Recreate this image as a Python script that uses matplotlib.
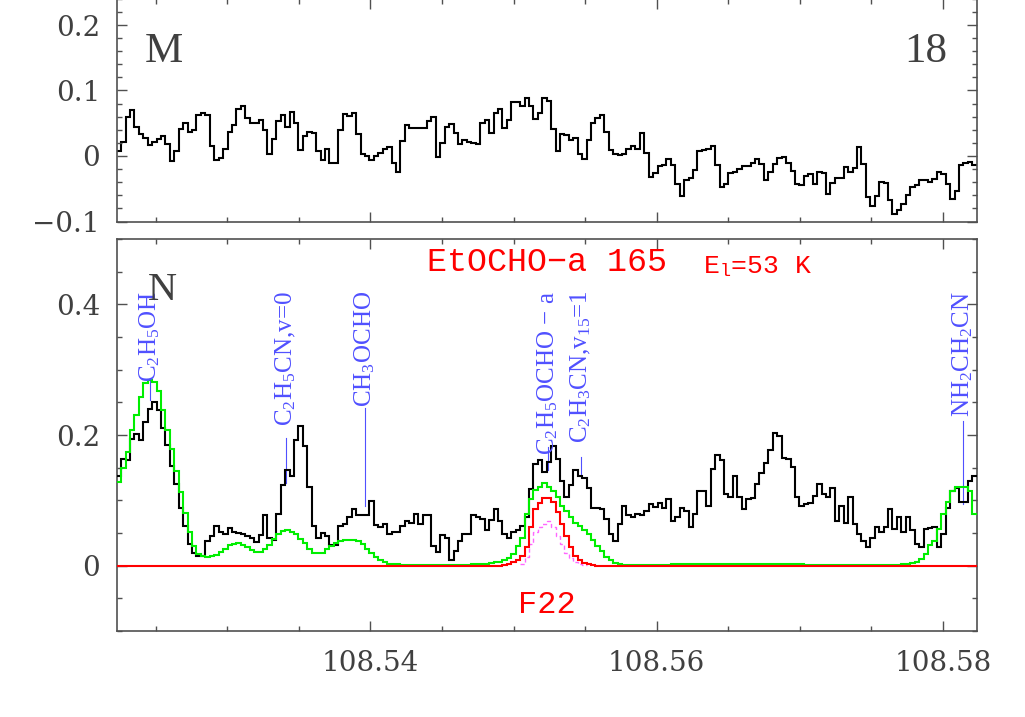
#============================IMPORTS================================
import matplotlib
matplotlib.use("Agg")
import matplotlib.pyplot as plt
from matplotlib.ticker import MultipleLocator, FuncFormatter
import numpy as np

#============================DATA===================================
# channel grid (GHz): centre of first channel and channel width
f_first = 108.52243
f_step = 0.0003097

# panel M (upper), one value per channel
m_flux = [
  0.008, 0.021, 0.059, 0.070, 0.044, 0.034, 0.028, 0.017, 0.021, 0.026,
  0.030, 0.018, -0.008, 0.008, 0.041, 0.050, 0.036, 0.040, 0.062, 0.066,
  0.062, 0.016, -0.006, -0.003, 0.010, 0.036, 0.048, 0.072, 0.076, 0.058,
  0.050, 0.051, 0.055, 0.039, 0.003, 0.026, 0.053, 0.063, 0.045, 0.067,
  0.051, 0.009, 0.030, 0.037, 0.035, 0.007, -0.006, 0.010, -0.010, -0.011,
  0.040, 0.064, 0.061, 0.065, 0.034, 0.003, 0.000, -0.006, 0.000, 0.005,
  0.010, 0.014, -0.010, -0.025, 0.023, 0.047, 0.042, 0.042, 0.042, 0.042,
  0.054, 0.060, -0.002, 0.020, 0.044, 0.049, 0.035, 0.018, 0.024, 0.022,
  0.020, 0.019, 0.051, 0.055, 0.035, 0.066, 0.071, 0.042, 0.055, 0.083,
  0.083, 0.076, 0.089, 0.076, 0.056, 0.066, 0.089, 0.084, 0.041, 0.008,
  0.033, 0.032, 0.024, 0.027, 0.003, -0.005, 0.025, 0.050, 0.058, 0.062,
  0.036, 0.009, 0.003, 0.002, 0.003, 0.011, 0.016, 0.011, 0.035, 0.004,
  -0.032, -0.026, -0.016, -0.013, -0.004, -0.013, -0.042, -0.061, -0.037, -0.034,
  -0.021, 0.007, 0.009, 0.010, 0.016, -0.013, -0.047, -0.043, -0.026, -0.025,
  -0.020, -0.015, -0.015, -0.011, -0.005, -0.012, -0.037, -0.025, -0.012, -0.003,
  -0.002, -0.010, -0.023, -0.042, -0.045, -0.031, -0.027, -0.042, -0.025, -0.026,
  -0.058, -0.041, -0.033, -0.033, -0.017, -0.024, -0.019, 0.013, -0.012, -0.062,
  -0.076, -0.061, -0.040, -0.041, -0.067, -0.088, -0.082, -0.073, -0.060, -0.048,
  -0.044, -0.037, -0.037, -0.039, -0.035, -0.025, -0.028, -0.042, -0.065, -0.053,
  -0.013, -0.010, -0.009, -0.013]

# panel N (lower), observed spectrum
n_flux = [
  0.138, 0.163, 0.161, 0.194, 0.202, 0.192, 0.220, 0.240, 0.250, 0.239,
  0.210, 0.184, 0.153, 0.125, 0.089, 0.061, 0.033, 0.020, 0.015, 0.015,
  0.037, 0.046, 0.061, 0.051, 0.049, 0.057, 0.051, 0.050, 0.048, 0.046,
  0.043, 0.036, 0.047, 0.077, 0.043, 0.039, 0.079, 0.124, 0.147, 0.138,
  0.192, 0.214, 0.183, 0.121, 0.060, 0.042, 0.050, 0.045, 0.031, 0.032,
  0.060, 0.064, 0.075, 0.087, 0.077, 0.078, 0.078, 0.099, 0.063, 0.059,
  0.064, 0.048, 0.051, 0.051, 0.061, 0.069, 0.066, 0.079, 0.064, 0.078,
  0.078, 0.030, 0.021, 0.047, 0.043, 0.008, 0.022, 0.037, 0.048, 0.048,
  0.078, 0.074, 0.072, 0.054, 0.070, 0.087, 0.069, 0.048, 0.043, 0.051,
  0.054, 0.060, 0.075, 0.118, 0.156, 0.161, 0.143, 0.158, 0.183, 0.163,
  0.130, 0.105, 0.123, 0.146, 0.138, 0.134, 0.119, 0.089, 0.088, 0.087,
  0.072, 0.048, 0.037, 0.064, 0.092, 0.077, 0.075, 0.079, 0.077, 0.083,
  0.094, 0.090, 0.096, 0.089, 0.102, 0.069, 0.074, 0.088, 0.084, 0.059,
  0.079, 0.115, 0.115, 0.092, 0.148, 0.169, 0.161, 0.110, 0.105, 0.138,
  0.105, 0.087, 0.102, 0.104, 0.125, 0.142, 0.157, 0.177, 0.203, 0.199,
  0.165, 0.163, 0.151, 0.105, 0.092, 0.095, 0.096, 0.107, 0.125, 0.110,
  0.105, 0.119, 0.069, 0.092, 0.066, 0.105, 0.064, 0.049, 0.038, 0.029,
  0.043, 0.059, 0.051, 0.059, 0.087, 0.056, 0.074, 0.051, 0.074, 0.054,
  0.033, 0.028, 0.056, 0.058, 0.059, 0.028, 0.049, 0.089, 0.115, 0.119,
  0.097, 0.097, 0.130, 0.138]

# full model, all species (green)
model_all = [
  0.128, 0.150, 0.174, 0.207, 0.230, 0.258, 0.279, 0.284, 0.281, 0.268,
  0.238, 0.208, 0.178, 0.145, 0.112, 0.080, 0.051, 0.030, 0.018, 0.015,
  0.014, 0.015, 0.017, 0.021, 0.026, 0.031, 0.033, 0.034, 0.032, 0.028,
  0.024, 0.021, 0.021, 0.025, 0.031, 0.041, 0.049, 0.053, 0.054, 0.052,
  0.049, 0.041, 0.034, 0.026, 0.020, 0.019, 0.020, 0.025, 0.030, 0.034,
  0.038, 0.040, 0.040, 0.039, 0.037, 0.033, 0.026, 0.019, 0.013, 0.008,
  0.005, 0.003, 0.002, 0.002, 0.001, 0.001, 0.001, 0.001, 0.001, 0.001,
  0.001, 0.001, 0.001, 0.001, 0.001, 0.001, 0.001, 0.001, 0.001, 0.001,
  0.002, 0.002, 0.002, 0.003, 0.004, 0.005, 0.005, 0.008, 0.012, 0.018,
  0.030, 0.043, 0.079, 0.102, 0.116, 0.121, 0.126, 0.121, 0.115, 0.105,
  0.092, 0.084, 0.074, 0.066, 0.061, 0.055, 0.049, 0.039, 0.030, 0.022,
  0.014, 0.008, 0.004, 0.002, 0.001, 0.001, 0.001, 0.001, 0.001, 0.001,
  0.001, 0.001, 0.001, 0.001, 0.001, 0.002, 0.002, 0.002, 0.002, 0.002,
  0.002, 0.002, 0.002, 0.002, 0.002, 0.002, 0.002, 0.002, 0.002, 0.002,
  0.002, 0.002, 0.002, 0.002, 0.002, 0.002, 0.002, 0.002, 0.002, 0.002,
  0.002, 0.002, 0.002, 0.002, 0.002, 0.001, 0.001, 0.001, 0.001, 0.001,
  0.001, 0.001, 0.001, 0.001, 0.001, 0.001, 0.001, 0.001, 0.001, 0.001,
  0.001, 0.001, 0.001, 0.001, 0.001, 0.001, 0.001, 0.002, 0.003, 0.004,
  0.006, 0.010, 0.018, 0.031, 0.038, 0.056, 0.079, 0.097, 0.115, 0.121,
  0.121, 0.121, 0.115, 0.079]

# EtOCHO-a model (red), zero outside the given channels
etocho_start = 86
etocho_flux = [0.000, 0.001, 0.002, 0.005, 0.009, 0.015, 0.028, 0.059, 0.087, 0.096,
               0.104, 0.104, 0.097, 0.082, 0.064, 0.046, 0.028, 0.015, 0.008, 0.004,
               0.002, 0.001]
# second EtOCHO model (pink dashed)
etocho2_start = 91
etocho2_flux = [0.003, 0.013, 0.033, 0.051, 0.059, 0.064, 0.068, 0.059, 0.046, 0.033,
                0.020, 0.011, 0.005, 0.003, 0.001]

# line identifications
id_labels = [r"C$_2$H$_5$OH", r"C$_2$H$_5$CN,v=0", r"CH$_3$OCHO",
             "C$_2$H$_5$OCHO \u2212 a", r"C$_2$H$_3$CN,v$_{15}$=1", r"NH$_2$CH$_2$CN"]
id_freqs = [108.52458, 108.53410, 108.53960, 108.55239, 108.55471, 108.58137]

#============================STYLE==================================
W, H = 1025, 717
ID_BLUE = "#5050ff"
AX_GREY = "#505050"
LBL_GREY = "#404040"
# label foot and data end of the identification ticks (y, panel N units)
id_top = [0.288, 0.195, 0.242, 0.181, 0.166, 0.222]
id_bot = [0.253, 0.126, 0.092, 0.146, 0.135, 0.095]

plt.rcParams["mathtext.fontset"] = "custom"
plt.rcParams["mathtext.rm"] = "Liberation Serif"
plt.rcParams["mathtext.it"] = "Liberation Serif:italic"

#============================FUNCTIONS==============================
def edges(n, start=0):
  # channel edges in GHz
  return f_first + f_step*(np.arange(n+1) + start - 0.5)

def fmt_y(v, pos):
  return ("%g" % round(v, 3)).replace("-", "\u2212")

def fig_xy(x, y):
  # pixel position -> figure fraction
  return x/W, 1 - y/H

def style_axes(ax, ymaj, ymin, xlabels):
  ax.set_xlim(edges(len(n_flux))[0], edges(len(n_flux))[-1])
  ax.xaxis.set_major_locator(MultipleLocator(0.02))
  ax.xaxis.set_minor_locator(MultipleLocator(0.005))
  ax.yaxis.set_major_locator(MultipleLocator(ymaj))
  ax.yaxis.set_minor_locator(MultipleLocator(ymin))
  ax.yaxis.set_major_formatter(FuncFormatter(fmt_y))
  ax.xaxis.set_major_formatter(FuncFormatter(lambda v, p: "%.2f" % v))
  ax.tick_params(which="both", direction="in", top=True, right=True,
                 color=AX_GREY, width=1, labelsize=20, labelcolor=LBL_GREY, pad=12)
  ax.tick_params(which="major", length=7)
  ax.tick_params(which="minor", length=3.6)
  ax.tick_params(axis="x", labelbottom=xlabels, pad=14)
  for lab in ax.get_xticklabels() + ax.get_yticklabels():
    lab.set_family("DejaVu Serif")
  for sp in ax.spines.values():
    sp.set_color(AX_GREY)
    sp.set_linewidth(1.2)

#==============================MAIN=================================
def main():
  fig = plt.figure(figsize=(W/100, H/100), dpi=100)
  left, width = 116.7/W, 860/W
  ax_m = fig.add_axes([left, 1 - 221.5/H, width, 222.7/H])
  ax_n = fig.add_axes([left, 1 - 631/H, width, 392/H])

  # panel M
  ax_m.stairs(m_flux, edges(len(m_flux)), baseline=None, color="black", lw=1.5)
  ax_m.set_ylim(-0.1, 0.24)
  style_axes(ax_m, 0.1, 0.02, False)

  # panel N
  ax_n.stairs(n_flux, edges(len(n_flux)), baseline=None, color="black", lw=1.5, zorder=3)
  ax_n.stairs(model_all, edges(len(model_all)), baseline=None, color="#00ee00", lw=1.5, zorder=4)
  red = np.zeros(len(n_flux))
  red[etocho_start:etocho_start+len(etocho_flux)] = etocho_flux
  ax_n.stairs(etocho2_flux, edges(len(etocho2_flux), etocho2_start), baseline=None,
              color="#ff66ff", lw=1.0, ls=(0, (3, 2)), zorder=5)
  ax_n.stairs(red, edges(len(red)), baseline=None, color="#ff0000", lw=1.5, zorder=6)
  ax_n.set_ylim(-0.1, 0.5)
  style_axes(ax_n, 0.2, 0.05, True)

  # line identifications
  for lab, f, y0, y1 in zip(id_labels, id_freqs, id_bot, id_top):
    ax_n.plot([f, f], [y0, y1], color=ID_BLUE, lw=0.8, zorder=2)
    ax_n.text(f, 0.421, lab, rotation=90, ha="center", va="top", color=ID_BLUE,
              fontsize=18, family="Liberation Serif", zorder=7)

  # panel tags
  fig.text(*fig_xy(145, 62), "M", fontsize=31, family="Liberation Serif", color=LBL_GREY)
  fig.text(*fig_xy(947, 62), "18", fontsize=31, family="Liberation Serif",
           color=LBL_GREY, ha="right")
  fig.text(*fig_xy(148, 300), "N", fontsize=29, family="Liberation Serif", color=LBL_GREY)

  # red captions
  fig.text(*fig_xy(427, 271), "EtOCHO\u2212a 165", fontsize=24, family="Liberation Mono",
           color="#ff0000")
  fig.text(*fig_xy(703, 273), r"E$_\mathregular{l}$=53 K", fontsize=19,
           family="Liberation Mono", color="#ff0000")
  fig.text(*fig_xy(518, 613), "F22", fontsize=23, family="Liberation Mono", color="#ff0000")

  fig.savefig("out.png", dpi=100)

#===================================================================
if __name__ == "__main__":
  main()
